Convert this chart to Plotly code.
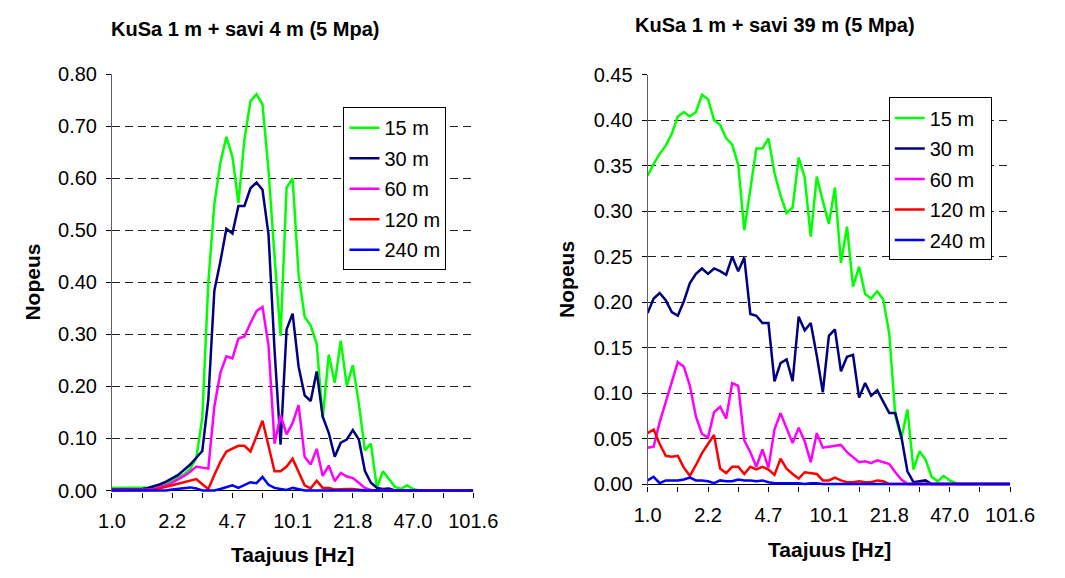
import plotly.graph_objects as go

W, H = 1065, 578
FONT = "Liberation Sans, Arial, sans-serif"

# ---------------- data ----------------
n_points = 61
idx = list(range(n_points))
tick_positions = list(range(0, 61, 5))
freq_labels = ["1.0", "2.2", "4.7", "10.1", "21.8", "47.0", "101.6"]

series_names = ["15 m", "30 m", "60 m", "120 m", "240 m"]
series_colors = ["#00FF00", "#000080", "#FF00FF", "#FF0000", "#0000FF"]

# Left chart: KuSa 1 m + savi 4 m
left_15 = [0.005, 0.005, 0.005, 0.005, 0.005, 0.005, 0.006, 0.007, 0.010, 0.014,
           0.019, 0.025, 0.031, 0.042, 0.062, 0.140, 0.400, 0.550, 0.630, 0.680,
           0.642, 0.553, 0.675, 0.748, 0.762, 0.742, 0.615, 0.450, 0.297, 0.582,
           0.600, 0.415, 0.334, 0.317, 0.282, 0.139, 0.261, 0.207, 0.288, 0.201,
           0.241, 0.167, 0.077, 0.090, 0.005, 0.037, 0.023, 0.007, 0.003, 0.010,
           0.003, 0, 0, 0, 0, 0, 0, 0, 0, 0, 0]
left_30 = [0.002, 0.002, 0.002, 0.002, 0.002, 0.003, 0.005, 0.008, 0.012, 0.017,
           0.023, 0.030, 0.040, 0.050, 0.063, 0.076, 0.175, 0.384, 0.440, 0.503,
           0.494, 0.547, 0.547, 0.581, 0.592, 0.578, 0.492, 0.270, 0.088, 0.310,
           0.340, 0.238, 0.183, 0.172, 0.229, 0.142, 0.111, 0.065, 0.092, 0.098,
           0.116, 0.098, 0.038, 0.015, 0.005, 0.003, 0.004, 0, 0, 0,
           0, 0, 0, 0, 0, 0, 0, 0, 0, 0, 0]
left_60 = [0.001, 0.001, 0.001, 0.001, 0.001, 0.001, 0.002, 0.003, 0.006, 0.010,
           0.015, 0.021, 0.028, 0.036, 0.046, 0.044, 0.042, 0.161, 0.226, 0.258,
           0.254, 0.292, 0.296, 0.322, 0.345, 0.353, 0.279, 0.090, 0.145, 0.108,
           0.130, 0.164, 0.065, 0.050, 0.080, 0.028, 0.048, 0.018, 0.034, 0.027,
           0.024, 0.015, 0.005, 0.001, 0, 0, 0, 0, 0, 0,
           0, 0, 0, 0, 0, 0, 0, 0, 0, 0, 0]
left_120 = [0, 0, 0, 0, 0, 0.001, 0.001, 0.002, 0.004, 0.007,
            0.010, 0.013, 0.017, 0.020, 0.022, 0.012, 0.003, 0.030, 0.055, 0.075,
            0.081, 0.086, 0.086, 0.075, 0.104, 0.134, 0.086, 0.037, 0.037, 0.046,
            0.061, 0.034, 0.010, 0.004, 0.019, 0.005, 0.005, 0.002, 0.003, 0.003,
            0.003, 0.001, 0, 0, 0, 0, 0, 0, 0, 0,
            0, 0, 0, 0, 0, 0, 0, 0, 0, 0, 0]
left_240 = [0, 0, 0, 0, 0, 0, 0, 0, 0, 0,
            0.002, 0.003, 0.004, 0.006, 0.004, 0, 0, 0, 0.003, 0.007,
            0.010, 0.005, 0.010, 0.016, 0.014, 0.026, 0.011, 0.005, 0.003, 0.001,
            0.005, 0.002, 0, 0, 0, 0, 0, 0, 0, 0,
            0, 0, 0, 0, 0, 0, 0, 0, 0, 0,
            0, 0, 0, 0, 0, 0, 0, 0, 0, 0, 0]

# Right chart: KuSa 1 m + savi 39 m
right_15 = [0.339, 0.352, 0.363, 0.372, 0.385, 0.404, 0.409, 0.404, 0.409, 0.428,
            0.423, 0.400, 0.395, 0.380, 0.373, 0.351, 0.279, 0.323, 0.369, 0.369,
            0.380, 0.342, 0.317, 0.298, 0.304, 0.359, 0.337, 0.272, 0.338, 0.311,
            0.286, 0.326, 0.243, 0.283, 0.217, 0.239, 0.209, 0.204, 0.212, 0.203,
            0.165, 0.075, 0.050, 0.082, 0.016, 0.036, 0.027, 0.008, 0.003, 0.009,
            0.004, 0.001, 0, 0, 0, 0, 0, 0, 0, 0, 0]
right_30 = [0.188, 0.204, 0.210, 0.202, 0.189, 0.185, 0.201, 0.221, 0.231, 0.237,
            0.231, 0.237, 0.234, 0.230, 0.250, 0.234, 0.249, 0.187, 0.185, 0.177,
            0.177, 0.113, 0.133, 0.137, 0.113, 0.184, 0.169, 0.177, 0.141, 0.101,
            0.163, 0.170, 0.124, 0.140, 0.142, 0.095, 0.111, 0.097, 0.103, 0.091,
            0.078, 0.078, 0.052, 0.014, 0.002, 0.003, 0.004, 0, 0, 0,
            0, 0, 0, 0, 0, 0, 0, 0, 0, 0, 0]
right_60 = [0.040, 0.041, 0.068, 0.090, 0.113, 0.134, 0.129, 0.108, 0.074, 0.055,
            0.051, 0.079, 0.085, 0.072, 0.111, 0.108, 0.048, 0.035, 0.019, 0.038,
            0.018, 0.060, 0.078, 0.062, 0.045, 0.062, 0.047, 0.024, 0.056, 0.040,
            0.041, 0.042, 0.043, 0.035, 0.029, 0.024, 0.025, 0.023, 0.026, 0.024,
            0.022, 0.013, 0.005, 0, 0, 0, 0, 0, 0, 0,
            0, 0, 0, 0, 0, 0, 0, 0, 0, 0, 0]
right_120 = [0.056, 0.060, 0.044, 0.031, 0.030, 0.031, 0.018, 0.009, 0.021, 0.034,
             0.044, 0.054, 0.017, 0.012, 0.019, 0.019, 0.011, 0.019, 0.016, 0.019,
             0.016, 0.010, 0.028, 0.017, 0.011, 0.006, 0.013, 0.012, 0.011, 0.004,
             0.004, 0.007, 0.004, 0.002, 0.002, 0.003, 0.002, 0.002, 0.004, 0.003,
             0, 0, 0, 0, 0, 0, 0, 0, 0, 0,
             0, 0, 0, 0, 0, 0, 0, 0, 0, 0, 0]
right_240 = [0.004, 0.008, 0.001, 0.004, 0.004, 0.004, 0.005, 0.007, 0.004, 0.004,
             0.003, 0.001, 0.004, 0.003, 0.003, 0.005, 0.004, 0.004, 0.003, 0.004,
             0.002, 0.001, 0.001, 0.001, 0.001, 0.001, 0, 0.001, 0.001, 0,
             0, 0, 0, 0, 0, 0, 0, 0, 0, 0,
             0, 0, 0, 0, 0, 0, 0, 0, 0, 0,
             0, 0, 0, 0, 0, 0, 0, 0, 0, 0, 0]

left_title = "KuSa 1 m + savi 4 m (5 Mpa)"
right_title = "KuSa 1 m + savi 39 m (5 Mpa)"
x_title = "Taajuus [Hz]"
y_title = "Nopeus"

left_series = [left_15, left_30, left_60, left_120, left_240]
right_series = [right_15, right_30, right_60, right_120, right_240]

# ---------------- figure ----------------
fig = go.Figure()

for k, (name, color, ys) in enumerate(zip(series_names, series_colors, left_series)):
    fig.add_trace(go.Scatter(x=idx, y=ys, mode="lines", name=name,
                             line=dict(color=color, width=2.5),
                             xaxis="x", yaxis="y", legend="legend",
                             legendgroup="L%d" % k))
for k, (name, color, ys) in enumerate(zip(series_names, series_colors, right_series)):
    fig.add_trace(go.Scatter(x=idx, y=ys, mode="lines", name=name,
                             line=dict(color=color, width=2.5),
                             xaxis="x2", yaxis="y2", legend="legend2",
                             legendgroup="R%d" % k))

ticktext = [freq_labels[i // 10] if i % 10 == 0 else "" for i in tick_positions]


def xaxis_cfg(x0, x1, anchor):
    return dict(domain=[x0 / W, x1 / W], range=[0, 60], anchor=anchor,
                tickmode="array", tickvals=tick_positions, ticktext=ticktext,
                ticks="outside", ticklen=5, tickcolor="black", tickwidth=1,
                showline=False, showgrid=False, zeroline=False,
                ticklabelstandoff=6,
                tickfont=dict(family=FONT, size=20, color="black"))


def yaxis_cfg(top_px, zero_px, ymax, dtick, anchor):
    ppu = (zero_px - top_px) / ymax
    ext = 2.0
    return dict(domain=[1 - (zero_px + ext) / H, 1 - top_px / H],
                range=[-ext / ppu, ymax], anchor=anchor,
                dtick=dtick, tick0=0, tickformat=".2f",
                ticks="outside", ticklen=5, tickcolor="black", tickwidth=1,
                showline=True, linecolor="#606060", linewidth=1,
                showgrid=True, gridcolor="#202020", gridwidth=1, griddash="8px,5px",
                zeroline=True, zerolinecolor="black", zerolinewidth=1,
                ticklabelstandoff=5,
                tickfont=dict(family=FONT, size=20, color="black"))


legend_common = dict(xanchor="left", yanchor="top", bgcolor="white",
                     bordercolor="black", borderwidth=1,
                     font=dict(family=FONT, size=20, color="black"),
                     tracegroupgap=1.5, itemwidth=30)

fig.update_layout(
    width=W, height=H, autosize=False,
    margin=dict(l=0, r=0, t=0, b=0),
    paper_bgcolor="white", plot_bgcolor="white",
    font=dict(family=FONT, color="black"),
    xaxis=xaxis_cfg(101.7, 476.7, "y"),
    yaxis=yaxis_cfg(65.6, 496.7, 0.8, 0.1, "x"),
    xaxis2=xaxis_cfg(657.7, 1034.0, "y2"),
    yaxis2=yaxis_cfg(66.0, 490.0, 0.45, 0.05, "x2"),
    legend=dict(x=342 / W, y=1 - 99.6 / H, **legend_common),
    legend2=dict(x=908 / W, y=1 - 89.6 / H, **legend_common),
    annotations=[
        dict(text="<b>%s</b>" % left_title, x=240 / W, y=1 - 19 / H, xref="paper", yref="paper",
             showarrow=False, xanchor="center", yanchor="middle", font=dict(family=FONT, size=20)),
        dict(text="<b>%s</b>" % right_title, x=790 / W, y=1 - 15 / H, xref="paper", yref="paper",
             showarrow=False, xanchor="center", yanchor="middle", font=dict(family=FONT, size=20)),
        dict(text="<b>%s</b>" % y_title, x=19 / W, y=1 - 281 / H, xref="paper", yref="paper",
             showarrow=False, textangle=-90, xanchor="center", yanchor="middle",
             font=dict(family=FONT, size=21)),
        dict(text="<b>%s</b>" % y_title, x=573.5 / W, y=1 - 278 / H, xref="paper", yref="paper",
             showarrow=False, textangle=-90, xanchor="center", yanchor="middle",
             font=dict(family=FONT, size=21)),
        dict(text="<b>%s</b>" % x_title, x=289 / W, y=1 - 563 / H, xref="paper", yref="paper",
             showarrow=False, xanchor="center", yanchor="middle", font=dict(family=FONT, size=21)),
        dict(text="<b>%s</b>" % x_title, x=846 / W, y=1 - 558 / H, xref="paper", yref="paper",
             showarrow=False, xanchor="center", yanchor="middle", font=dict(family=FONT, size=21)),
    ],
)

fig.write_html("out.html")
